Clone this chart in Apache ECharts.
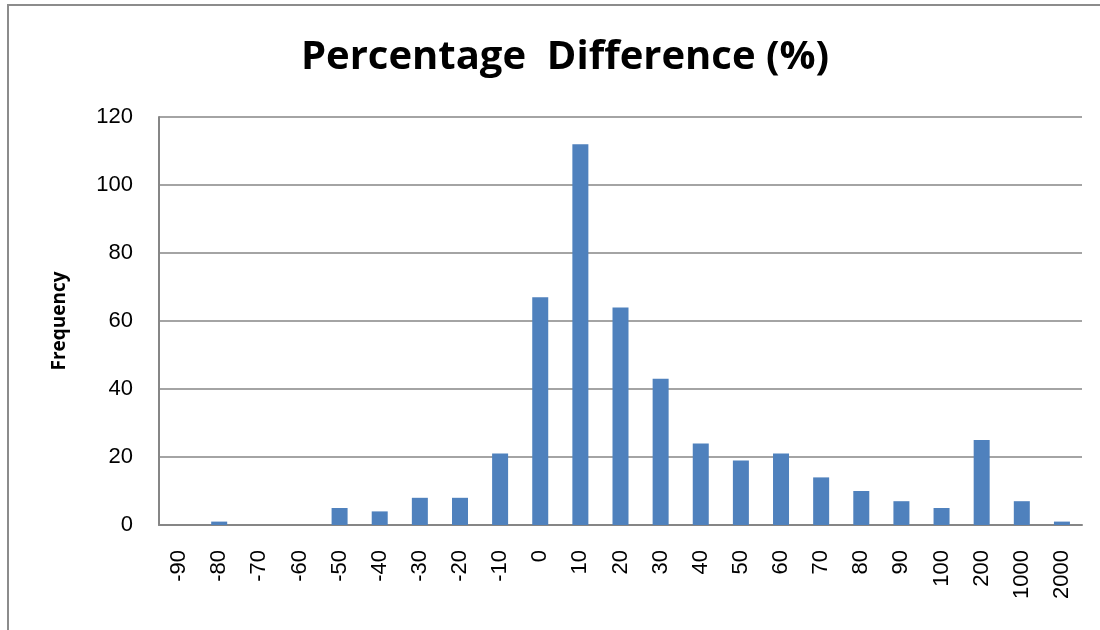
<!DOCTYPE html>
<html><head><meta charset="utf-8">
<script src="https://cdn.jsdelivr.net/npm/echarts@6/dist/echarts.min.js"></script>
<style>html,body{margin:0;padding:0;background:#fff}#c{width:1100px;height:630px}</style>
</head><body><div id="c"></div>
<script>
const categories = ['-90','-80','-70','-60','-50','-40','-30','-20','-10','0','10','20','30','40','50','60','70','80','90','100','200','1000','2000'];
const frequency = [0,1,0,0,5,4,8,8,21,67,112,64,43,24,19,21,14,10,7,5,25,7,1];
const yTicks = {min:0, max:120, interval:20};

const chart = echarts.init(document.getElementById('c'));
chart.setOption({
  animation:false,
  backgroundColor:'#fff',
  graphic:[{type:'rect', shape:{x:8,y:5,width:1200,height:700}, style:{fill:'none', stroke:'#8c8c8c', lineWidth:2}, silent:true}],
  title:{text:'Percentage  Difference (%)', left:560, top:33, textAlign:'center',
    textStyle:{fontFamily:'Open Sans', fontWeight:'bold', fontSize:40, color:'#000'}},
  grid:{left:159, right:18, top:117, bottom:105, containLabel:false},
  xAxis:{type:'category', data:categories,
    axisLine:{lineStyle:{color:'#868686', width:2}},
    axisTick:{show:false},
    axisLabel:{rotate:90, margin:25, interval:0, fontFamily:'Liberation Sans', fontSize:22, color:'#000'}},
  yAxis:{type:'value', min:yTicks.min, max:yTicks.max, interval:yTicks.interval,
    name:'Frequency', nameLocation:'middle', nameRotate:90, nameGap:90,
    nameTextStyle:{fontFamily:'Open Sans', fontWeight:'bold', fontSize:19, color:'#000'},
    axisLine:{show:true, lineStyle:{color:'#868686', width:2}},
    axisTick:{show:false},
    splitLine:{lineStyle:{color:'#868686', width:1.5}},
    axisLabel:{margin:26, fontFamily:'Liberation Sans', fontSize:22, color:'#000'}},
  series:[{type:'bar', data:frequency, barWidth:16, itemStyle:{color:'#4F81BD'}}]
});
</script></body></html>
